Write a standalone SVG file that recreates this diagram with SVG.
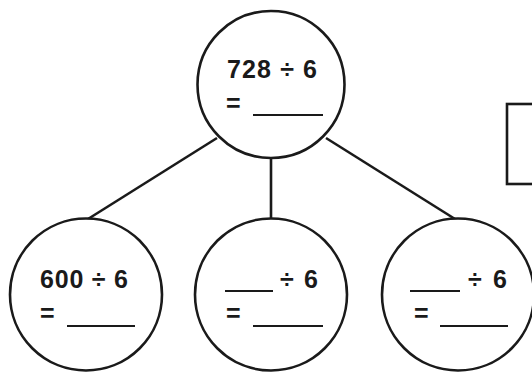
<svg xmlns="http://www.w3.org/2000/svg" width="532" height="372" viewBox="0 0 532 372">
  <style>
    .ring { fill: #ffffff; stroke: #1a1a1a; stroke-width: 2.6; }
    .link { stroke: #1a1a1a; stroke-width: 2.6; fill: none; }
    .rule { stroke: #1a1a1a; stroke-width: 1.8; }
    .txt { font-family: "Liberation Sans", Arial, sans-serif; font-weight: bold; font-size: 25px; fill: #1a1a1a; }
    .box { fill: #ffffff; stroke: #1a1a1a; stroke-width: 2.6; }
  </style>
  <rect width="532" height="372" fill="#ffffff"/>

  <!-- connectors from the top circle to the three lower circles -->
  <g id="connectors">
    <line class="link" x1="217" y1="138" x2="88" y2="219"/>
    <line class="link" x1="271" y1="158" x2="271" y2="219"/>
    <line class="link" x1="326" y1="138" x2="455" y2="219"/>
  </g>

  <!-- answer box at the right edge -->
  <g id="answer-box">
    <rect class="box" x="507" y="104" width="40" height="80"/>
  </g>

  <g id="node-top">
    <circle class="ring" cx="271" cy="84.5" r="73.5"/>
    <text class="txt" x="227" y="78" textLength="90" lengthAdjust="spacing">728 ÷ 6</text>
    <text class="txt" x="226" y="112">=</text>
    <line class="rule" x1="253" y1="115" x2="323" y2="115"/>
  </g>

  <g id="node-left">
    <circle class="ring" cx="86" cy="294.5" r="76"/>
    <text class="txt" x="40" y="288" textLength="88" lengthAdjust="spacing">600 ÷ 6</text>
    <text class="txt" x="40" y="322">=</text>
    <line class="rule" x1="67" y1="326" x2="135" y2="326"/>
  </g>

  <g id="node-middle">
    <circle class="ring" cx="271" cy="294.5" r="76"/>
    <line class="rule" x1="225" y1="291" x2="273" y2="291"/>
    <text class="txt" x="280" y="288" textLength="38" lengthAdjust="spacing">÷ 6</text>
    <text class="txt" x="226" y="322">=</text>
    <line class="rule" x1="253" y1="326" x2="323" y2="326"/>
  </g>

  <g id="node-right">
    <circle class="ring" cx="458" cy="294.5" r="76"/>
    <line class="rule" x1="410" y1="291" x2="460" y2="291"/>
    <text class="txt" x="468" y="288" textLength="39" lengthAdjust="spacing">÷ 6</text>
    <text class="txt" x="414" y="322">=</text>
    <line class="rule" x1="440" y1="326" x2="508" y2="326"/>
  </g>
</svg>
